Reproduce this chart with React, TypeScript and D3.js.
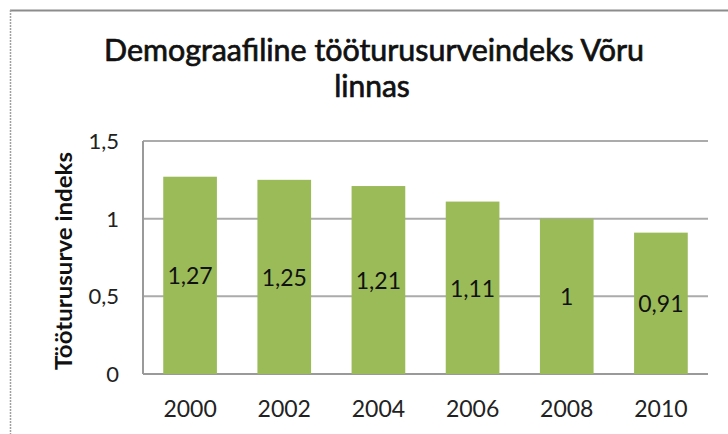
import React from "react";
import * as d3 from "d3";

const categories = ["2000", "2002", "2004", "2006", "2008", "2010"];
const values = [1.27, 1.25, 1.21, 1.11, 1, 0.91];
const valueLabels = ["1,27", "1,25", "1,21", "1,11", "1", "0,91"];
const yTicks = [0, 0.5, 1, 1.5];
const yTickLabels = ["0", "0,5", "1", "1,5"];
const titleLines = ["Demograafiline tööturusurveindeks Võru", "linnas"];
const yTitle = "Tööturusurve indeks";

const W = 728;
const H = 434;
const plot = { left: 143, right: 708, top: 141, bottom: 374 };
const FONT = "Lato, 'Open Sans', sans-serif";

export default function App() {
  const x = d3
    .scaleBand<string>()
    .domain(categories)
    .range([plot.left, plot.right])
    .paddingInner(0.43)
    .paddingOuter(0.215);
  const y = d3.scaleLinear().domain([0, 1.5]).range([plot.bottom, plot.top]);

  return (
    <svg
      width={W}
      height={H}
      style={{ position: "absolute", left: 0, top: 0, background: "#fff" }}
      fontFamily={FONT}
    >
      <rect x={0} y={0} width={W} height={H} fill="#fff" />
      {/* chart border */}
      <line x1={10} x2={W} y1={10.5} y2={10.5} stroke="#8c8c8c" strokeWidth={2} />
      <line x1={10.5} x2={10.5} y1={10} y2={H} stroke="#a0a0a0" strokeWidth={1.5} strokeDasharray="2,1" />

      {/* title */}
      <text
        x={374}
        y={61}
        textAnchor="middle"
        fontSize={30}
        fontWeight={400}
        fill="#111"
        stroke="#111"
        strokeWidth={0.7}
        textLength={540}
        lengthAdjust="spacingAndGlyphs"
      >
        {titleLines[0]}
      </text>
      <text
        x={372}
        y={97}
        textAnchor="middle"
        fontSize={30}
        fontWeight={400}
        fill="#111"
        stroke="#111"
        strokeWidth={0.7}
      >
        {titleLines[1]}
      </text>

      {/* gridlines */}
      {yTicks.map((v, i) => (
        <line
          key={i}
          x1={plot.left}
          x2={plot.right}
          y1={y(v)}
          y2={y(v)}
          stroke={v === 0 ? "#9a9a9a" : "#ababab"}
          strokeWidth={2}
        />
      ))}
      <line x1={plot.left} x2={plot.left} y1={plot.top} y2={plot.bottom} stroke="#9a9a9a" strokeWidth={2} />

      {/* y tick labels */}
      {yTicks.map((v, i) => (
        <text key={i} x={119} y={y(v) + 8} textAnchor="end" fontSize={22} fill="#222">
          {yTickLabels[i]}
        </text>
      ))}

      {/* y title */}
      <text
        transform={`translate(72, 261) rotate(-90)`}
        textAnchor="middle"
        fontSize={23}
        fontWeight={700}
        fill="#111"
        textLength={218}
        lengthAdjust="spacingAndGlyphs"
      >
        {yTitle}
      </text>

      {/* bars */}
      {categories.map((c, i) => (
        <rect
          key={c}
          x={x(c)}
          y={y(values[i])}
          width={x.bandwidth()}
          height={y(0) - y(values[i])}
          fill="#9bbb59"
        />
      ))}

      {/* value labels */}
      {categories.map((c, i) => (
        <text
          key={c}
          x={(x(c) as number) + x.bandwidth() / 2}
          y={(y(values[i]) + y(0)) / 2 + 9}
          textAnchor="middle"
          fontSize={23}
          fill="#111"
        >
          {valueLabels[i]}
        </text>
      ))}

      {/* x tick labels */}
      {categories.map((c) => (
        <text
          key={c}
          x={(x(c) as number) + x.bandwidth() / 2}
          y={417}
          textAnchor="middle"
          fontSize={23}
          fill="#222"
        >
          {c}
        </text>
      ))}
    </svg>
  );
}
